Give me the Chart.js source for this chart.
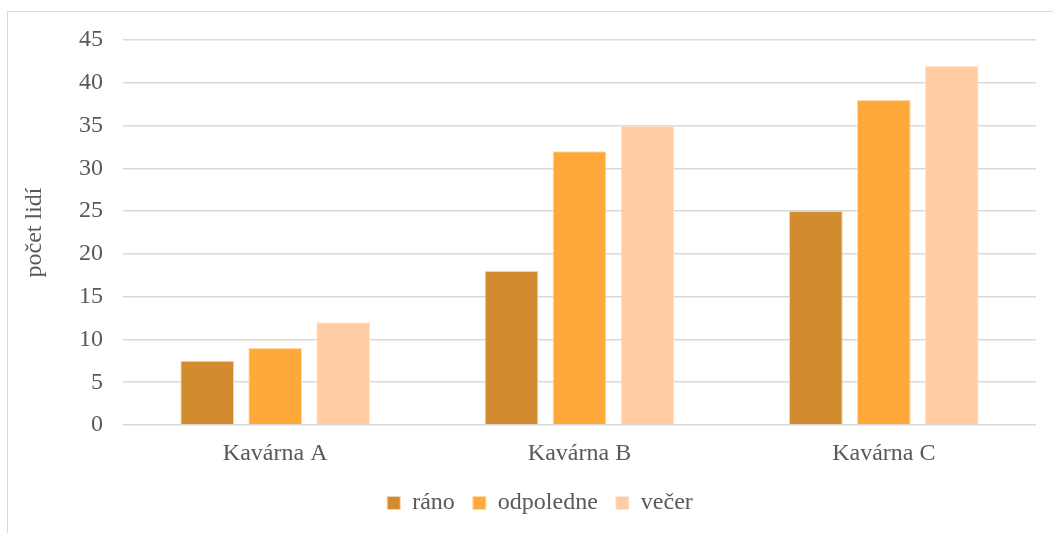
<!DOCTYPE html>
<html>
<head>
<meta charset="utf-8">
<script src="https://cdn.jsdelivr.net/npm/chart.js@4.4.0/dist/chart.umd.min.js"></script>
<style>
  html, body { margin: 0; padding: 0; background: #fff; }
  #ramecek {
    position: absolute; left: 7px; top: 11px; width: 1100px; height: 600px;
    border-left: 1.5px solid #d9d9d9; border-top: 1.5px solid #d9d9d9;
  }
  #obal { position: absolute; left: 0; top: 0; width: 1053px; height: 533px; }
</style>
</head>
<body>
<div id="ramecek"></div>
<div id="obal"><canvas id="graf"></canvas></div>
<script>
// data z grafu
const kavarny = ["Kavárna A", "Kavárna B", "Kavárna C"];
const rano = [7.5, 18, 25];
const odpoledne = [9, 32, 38];
const vecer = [12, 35, 42];
const pismo = "'Liberation Serif', 'Times New Roman', serif";

// legenda je v originale vystredena na cely ramecek, ne jen na plochu grafu
const posunLegendy = {
  id: "posunLegendy",
  afterLayout(chart) {
    chart.legend.left += 22;
    chart.legend.right += 22;
  },
};

const ctx = document.getElementById("graf").getContext("2d");

new Chart(ctx, {
  type: "bar",
  data: {
    labels: kavarny,
    datasets: [
      { label: "ráno", data: rano, backgroundColor: "#d38b2f", borderColor: "#f2d3ad", borderWidth: 1 },
      { label: "odpoledne", data: odpoledne, backgroundColor: "#ffa93b", borderColor: "#ffd9a8", borderWidth: 1 },
      { label: "večer", data: vecer, backgroundColor: "#ffcca3", borderColor: "#ffe6d2", borderWidth: 1 },
    ],
  },
  plugins: [posunLegendy],
  options: {
    responsive: true,
    maintainAspectRatio: false,
    animation: false,
    categoryPercentage: 0.67,
    barPercentage: 0.79,
    layout: { padding: { left: 0, top: 40, right: 17, bottom: 8 } },
    scales: {
      x: {
        grid: { display: false },
        border: { display: false },
        ticks: { color: "#595959", font: { family: pismo, size: 24 }, padding: 6 },
        afterFit: (s) => { s.height = 48; },
      },
      y: {
        min: 0,
        max: 45,
        ticks: { stepSize: 5, color: "#595959", font: { family: pismo, size: 24 }, padding: 20 },
        grid: { color: "#d9d9d9", lineWidth: 1.5, drawTicks: false },
        border: { display: false },
        title: { display: true, text: "počet lidí", color: "#595959", font: { family: pismo, size: 24 }, padding: { top: 20, bottom: 0 } },
        afterFit: (s) => { s.width = 123; },
      },
    },
    plugins: {
      legend: {
        position: "bottom",
        labels: { color: "#595959", font: { family: pismo, size: 24 }, boxWidth: 13, boxHeight: 13, padding: 18 },
      },
      tooltip: { enabled: false },
    },
  },
});
</script>
</body>
</html>
